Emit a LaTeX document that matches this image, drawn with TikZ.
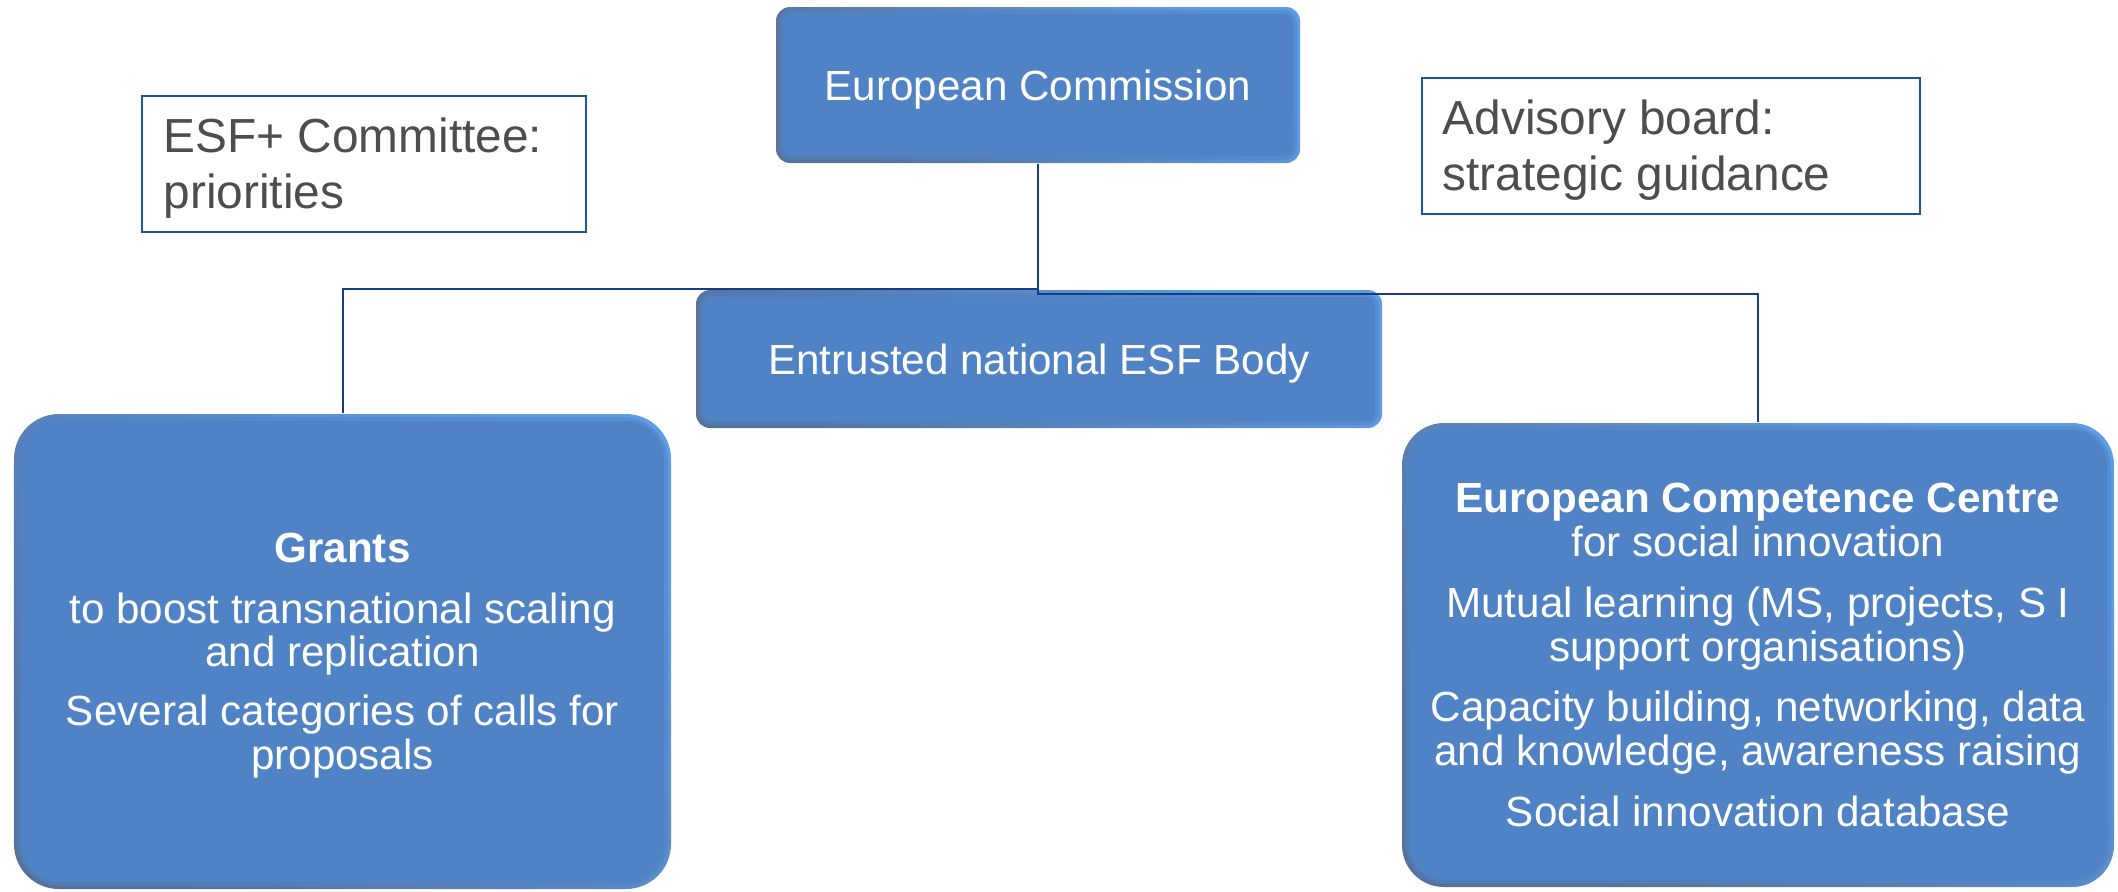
\documentclass[tikz,border=0pt]{standalone}
\usepackage{fontspec}
\setmainfont{Liberation Sans}
\usetikzlibrary{calc}

\definecolor{boxmain}{RGB}{80,131,197}
\definecolor{rimlight}{RGB}{94,156,230}
\definecolor{rimdark}{RGB}{86,114,155}
\definecolor{connblue}{RGB}{22,62,132}
\definecolor{frameblue}{RGB}{22,86,172}
\definecolor{greytext}{RGB}{77,77,77}

\tikzset{
  % bevelled blue box: shaded rim, flat face inset
  bluebox/.style 2 args={
    inner sep=0pt, text=white, align=center,
    font=\fontsize{12pt}{12.5pt}\selectfont,
    rounded corners=#1,
    top color=rimlight, bottom color=rimdark, shading angle=-45,
    path picture={
      \fill[boxmain, opacity=0.55, rounded corners=#1]
        ([shift={(0.03,0.03)}]path picture bounding box.south west) rectangle
        ([shift={(-0.03,-0.03)}]path picture bounding box.north east);
      \fill[boxmain, rounded corners=#2]
        ([shift={(0.07,0.07)}]path picture bounding box.south west) rectangle
        ([shift={(-0.07,-0.07)}]path picture bounding box.north east);
    }
  },
  framebox/.style={draw=frameblue, line width=0.02cm, fill=white, inner sep=0pt},
  frametext/.style={anchor=base west, inner sep=0pt, text=greytext, align=left,
    font=\fontsize{13.6pt}{15.7pt}\selectfont},
  conn/.style={draw=connblue, line width=0.02cm}
}

\begin{document}
\begin{tikzpicture}
\useasboundingbox (0,0) rectangle (21.18,-8.91);

% side notes (base anchor sits on the last line)
\node[framebox, minimum width=4.44cm, minimum height=1.36cm] (esf) at (3.64,-1.64) {};
\node[frametext] (esftxt) at (1.63,-2.08) {ESF+ Committee:\\priorities};

\node[framebox, minimum width=4.98cm, minimum height=1.36cm] (adv) at (16.71,-1.46) {};
\node[frametext] (advtxt) at (14.42,-1.90) {Advisory board:\\strategic guidance};

% main boxes
\node[bluebox={0.14cm}{0.08cm}, minimum width=5.24cm, minimum height=1.56cm, text depth=0pt]
  (ec) at (10.38,-0.85) {European Commission};

\node[bluebox={0.14cm}{0.08cm}, minimum width=6.86cm, minimum height=1.38cm, text depth=0pt]
  (ent) at (10.39,-3.59) {Entrusted national ESF Body};

\node[bluebox={0.45cm}{0.38cm}, minimum width=6.57cm, minimum height=4.75cm, text depth=0pt]
  (grants) at (3.425,-6.515)
  {\textbf{Grants}\\[4.6pt]
   to boost transnational scaling\\
   and replication\\[4.2pt]
   Several categories of calls for\\
   proposals};

\node[bluebox={0.42cm}{0.35cm}, minimum width=7.12cm, minimum height=4.64cm]
  (comp) at (17.58,-6.55)
  {\textbf{European Competence Centre}\\
   for social innovation\\[4.8pt]
   Mutual learning (MS, projects, S I\\
   support organisations)\\[4.8pt]
   Capacity building, networking, data\\
   and knowledge, awareness raising\\[4.8pt]
   Social innovation database};

% connectors
\draw[conn] (ec.south) -- ++(0,-1.25) -| (grants.north);
\draw[conn] (ec.south) -- ++(0,-1.30) -| (comp.north);
\end{tikzpicture}
\end{document}
